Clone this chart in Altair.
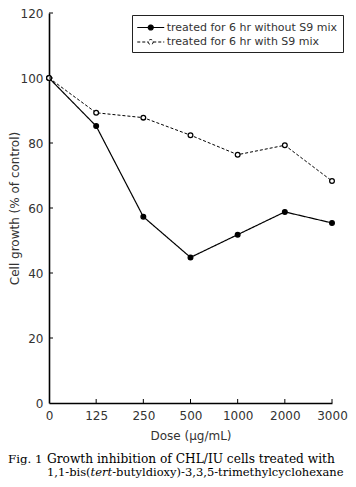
import altair as alt
import pandas as pd

doses = ["0", "125", "250", "500", "1000", "2000", "3000"]
without_s9 = [100, 85.2, 57.3, 44.8, 51.8, 58.8, 55.4]
with_s9 = [100, 89.3, 87.8, 82.4, 76.4, 79.3, 68.3]
series_names = ["treated for 6 hr without S9 mix", "treated for 6 hr with S9 mix"]
y_ticks = [0, 20, 40, 60, 80, 100, 120]
caption_line1_a = "Fig. 1"
caption_line1_b = "Growth inhibition of CHL/IU cells treated with"
caption_line2 = ["1,1-bis(", "tert", "-butyldioxy)-3,3,5-trimethylcyclohexane"]

rows = []
for name, vals in zip(series_names, [without_s9, with_s9]):
    for d, v in zip(doses, vals):
        rows.append({"dose": d, "growth": v, "series": name})
df = pd.DataFrame(rows)

W, H = 283, 390
AXFONT = "DejaVu Sans"
xscale = alt.Scale(type="point", domain=doses, padding=0)
yscale = alt.Scale(domain=[0, 120], nice=False)

# legend symbol: a line with a circle in the middle (unit = half of sqrt(size))
sym = "M-2,0H-0.37M0.37,0H2M-0.37,0A0.37,0.37,0,1,0,0.37,0A0.37,0.37,0,1,0,-0.37,0Z"

xenc = alt.X("dose:O", scale=xscale,
             axis=alt.Axis(title="Dose (\u00b5g/mL)", labelAngle=0, ticks=False,
                           domainColor="black", domainWidth=1.6, labelPadding=7,
                           titlePadding=9))
yenc = alt.Y("growth:Q", scale=yscale,
             axis=alt.Axis(title="Cell growth (% of control)", values=y_ticks, ticks=False,
                           grid=False, domainColor="black", domainWidth=1.6,
                           labelPadding=6, titleX=-28))

legend = alt.Legend(title=None, orient="none", legendX=83, legendY=2,
                    symbolType=sym, symbolSize=182, symbolOffset=6.25,
                    symbolStrokeColor="black", symbolStrokeWidth=1,
                    labelFont=AXFONT, labelFontSize=11, labelColor="#333",
                    labelOffset=8.5, labelLimit=400,
                    strokeColor="#222", padding=5, rowPadding=1.5, fillColor="white")

lines = alt.Chart(df).mark_line(color="black").encode(
    x=xenc, y=yenc,
    strokeDash=alt.StrokeDash("series:N", sort=series_names,
                              scale=alt.Scale(domain=series_names, range=[[1, 0], [3, 2]]),
                              legend=legend),
    strokeWidth=alt.StrokeWidth("series:N", scale=alt.Scale(domain=series_names, range=[1.2, 1.0]),
                                legend=None),
)
points = alt.Chart(df).mark_point(color="black", filled=False, size=22, opacity=1,
                                  strokeWidth=1.3).encode(
    x=alt.X("dose:O", scale=xscale), y=alt.Y("growth:Q", scale=yscale),
    fill=alt.Fill("series:N", sort=series_names,
                  scale=alt.Scale(domain=series_names, range=["black", "white"]),
                  legend=legend),
)

ytick_df = pd.DataFrame({"v": y_ticks[1:]})
yticks = alt.Chart(ytick_df).mark_rule(color="black", strokeWidth=1).encode(
    y=alt.Y("v:Q", scale=yscale), x=alt.value(0), x2=alt.value(4))
xtick_df = pd.DataFrame({"d": doses[1:]})
xticks = alt.Chart(xtick_df).mark_rule(color="black", strokeWidth=1).encode(
    x=alt.X("d:O", scale=xscale), y=alt.value(H), y2=alt.value(H - 4))

SERIF = "DejaVu Serif"
def txt(s, x, y, size, style="normal"):
    return alt.Chart(pd.DataFrame({"t": [s]})).mark_text(
        align="left", baseline="alphabetic", font=SERIF, fontSize=size, color="black",
        fontStyle=style).encode(text="t:N", x=alt.value(x), y=alt.value(y))

L1, L2 = 450, 463
cap = [
    txt(caption_line1_a, -41, L1, 11.8),
    txt(caption_line1_b, -2, L1, 12.2),
    txt(caption_line2[0], -2, L2, 11.5),
    txt(caption_line2[1], 41.6, L2, 11.5, "italic"),
    txt(caption_line2[2], 63.2, L2, 11.5),
]

chart = alt.layer(lines, points, yticks, xticks, *cap).properties(
    width=W, height=H,
    autosize=alt.AutoSizeParams(type="none"),
    padding={"left": 41, "top": 5, "right": 16, "bottom": 76},
).configure_view(stroke=None).configure_axis(
    labelFont=AXFONT, labelFontSize=12, labelColor="#333",
    titleFont=AXFONT, titleFontSize=12, titleColor="#333", titleFontWeight="normal",
)

chart.save("out.html", embed_options={"renderer": "svg", "actions": False})
